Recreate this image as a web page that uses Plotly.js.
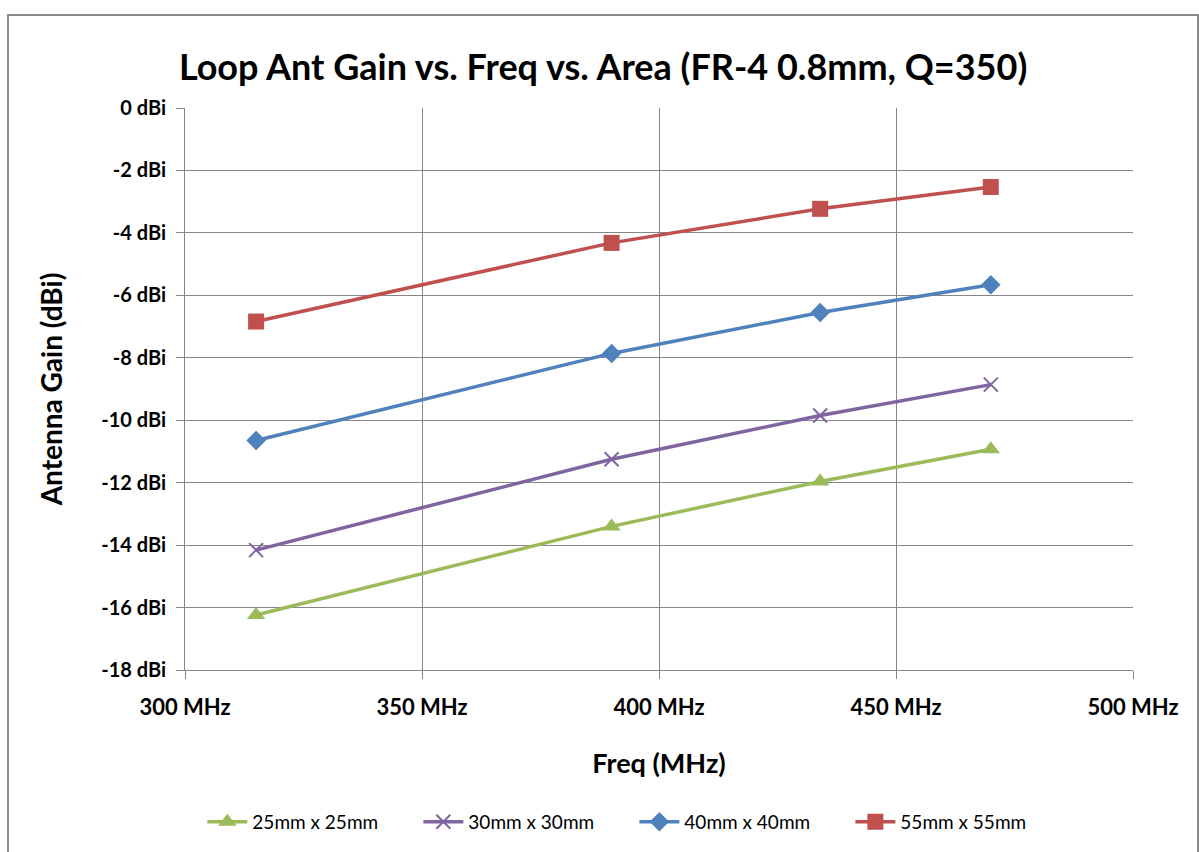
<!DOCTYPE html>
<html>
<head>
<meta charset="utf-8">
<script src="https://cdn.plot.ly/plotly-3.0.1.min.js"></script>
<style>
html,body{margin:0;padding:0;background:#fff;}
#chart{width:1199px;height:852px;}
#frame{position:absolute;left:7px;top:14px;width:1188px;height:850px;border:2px solid #8c8c8c;pointer-events:none;}
</style>
</head>
<body>
<div id="chart"></div>
<div id="frame"></div>
<script>
const freqs = [315, 390, 434, 470];
const g25 = [-16.24, -13.40, -11.96, -10.93];
const g30 = [-14.16, -11.25, -9.85, -8.86];
const g40 = [-10.65, -7.86, -6.55, -5.66];
const g55 = [-6.84, -4.32, -3.23, -2.53];
const seriesNames = ['25mm x 25mm', '30mm x 30mm', '40mm x 40mm', '55mm x 55mm'];
const xTickVals = [300, 350, 400, 450, 500];
const xTickText = ['300 MHz', '350 MHz', '400 MHz', '450 MHz', '500 MHz'];
const yTickVals = [0, -2, -4, -6, -8, -10, -12, -14, -16, -18];
const yTickText = ['0 dBi', '-2 dBi', '-4 dBi', '-6 dBi', '-8 dBi', '-10 dBi', '-12 dBi', '-14 dBi', '-16 dBi', '-18 dBi'];

const FONT = 'Lato, "Open Sans", sans-serif';
const traces = [
  {x: freqs, y: g25, name: seriesNames[0], mode: 'lines+markers',
   line: {color: '#9BBB59', width: 3.5},
   marker: {symbol: 'triangle-up', size: 16, color: '#9BBB59'}},
  {x: freqs, y: g30, name: seriesNames[1], mode: 'lines+markers',
   line: {color: '#8064A2', width: 3.5},
   marker: {symbol: 'x-thin-open', size: 14, color: '#8064A2', line: {color: '#8064A2', width: 2}}},
  {x: freqs, y: g40, name: seriesNames[2], mode: 'lines+markers',
   line: {color: '#4F81BD', width: 3.5},
   marker: {symbol: 'diamond', size: 15, color: '#4F81BD'}},
  {x: freqs, y: g55, name: seriesNames[3], mode: 'lines+markers',
   line: {color: '#C0504D', width: 3.5},
   marker: {symbol: 'square', size: 16, color: '#C0504D'}}
];

const layout = {
  width: 1199, height: 852,
  margin: {l: 185, r: 66, t: 108, b: 181},
  paper_bgcolor: '#fff', plot_bgcolor: '#fff',
  font: {family: FONT, color: '#000'},
  title: {text: '<b>Loop Ant Gain vs. Freq vs. Area (FR-4 0.8mm, Q=350)</b>',
          font: {size: 36, family: FONT, color: '#000'},
          x: 0.503, xref: 'container', xanchor: 'center', y: 0.921, yanchor: 'middle'},
  xaxis: {range: [300, 500], tickvals: xTickVals, ticktext: xTickText,
          showgrid: true, gridcolor: '#868686', gridwidth: 1,
          showline: true, linecolor: '#868686', linewidth: 1,
          ticks: 'outside', ticklen: 8, tickcolor: '#868686', ticklabelstandoff: 10,
          tickfont: {size: 22, family: FONT, color: '#000', weight: 'bold'},
          zeroline: false, fixedrange: true,
          title: {text: '<b>Freq (MHz)</b>', font: {size: 27, family: FONT, color: '#000'}, standoff: 34}},
  yaxis: {range: [-18, 0], tickvals: yTickVals, ticktext: yTickText,
          showgrid: true, gridcolor: '#868686', gridwidth: 1,
          showline: true, linecolor: '#868686', linewidth: 1,
          ticks: 'outside', ticklen: 8, tickcolor: '#868686', ticklabelstandoff: 6,
          tickfont: {size: 20, family: FONT, color: '#000', weight: 'bold'},
          zeroline: false, fixedrange: true,
          title: {text: '<b>Antenna Gain (dBi)</b>', font: {size: 28, family: FONT, color: '#000'}, standoff: 30}},
  showlegend: true,
  legend: {orientation: 'h', x: 0.474, xanchor: 'center', y: -0.268, yanchor: 'middle',
           font: {size: 19, family: FONT, color: '#000'}, itemwidth: 40, traceorder: 'normal',
           entrywidth: 161, entrywidthmode: 'pixels',
           bgcolor: 'rgba(0,0,0,0)'}
};

Plotly.newPlot('chart', traces, layout, {displayModeBar: false, staticPlot: true});
</script>
</body>
</html>
